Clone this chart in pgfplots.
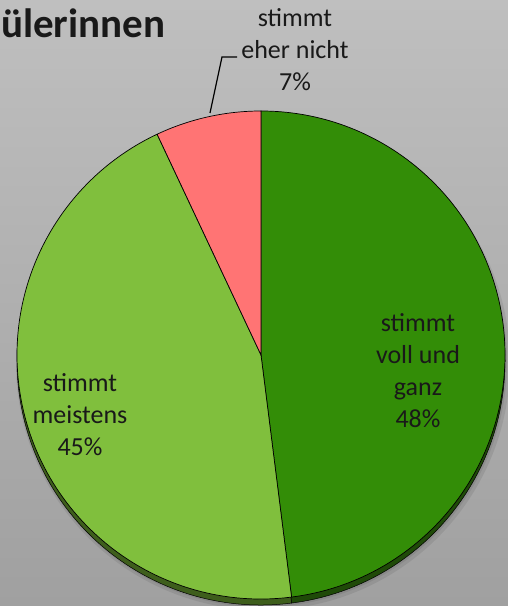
\documentclass[border=0pt]{standalone}
\usepackage{pgfplots}
\pgfplotsset{compat=1.18}
\usepackage{pgfplotstable}
\usepackage{fontspec}
\setmainfont{Carlito}
\definecolor{bgtop}{HTML}{BFBFBF}
\definecolor{bgbot}{HTML}{A0A0A0}
\definecolor{cdark}{HTML}{338D07}
\definecolor{clight}{HTML}{80BF3D}
\definecolor{cpink}{HTML}{FF7474}
\definecolor{edark}{HTML}{1F4A08}
\definecolor{elight}{HTML}{3E5E1C}
\definecolor{epink}{HTML}{8A3A3A}

\pgfplotstableread{
label value
voll 48
meistens 45
eher 7
}\piedata

\begin{document}
\begin{tikzpicture}
\pgfplotstablegetelem{0}{value}\of\piedata \let\va\pgfplotsretval
\pgfplotstablegetelem{1}{value}\of\piedata \let\vb\pgfplotsretval
\pgfplotstablegetelem{2}{value}\of\piedata \let\vc\pgfplotsretval
\pgfmathsetmacro\aA{90-3.6*\va}
\pgfmathsetmacro\aB{\aA-3.6*\vb}
\pgfmathsetmacro\aC{\aB-3.6*\vc}
\begin{axis}[scale only axis, width=508bp, height=606bp,
  xmin=0, xmax=508, ymin=0, ymax=606, hide axis, clip=true]
\fill[top color=bgtop, bottom color=bgbot] (axis cs:0,0) rectangle (axis cs:508,606);
% soft shadow
\fill[black, opacity=0.08] (axis cs:263,243) circle[radius=247bp];
\fill[black, opacity=0.08] (axis cs:262,244) circle[radius=245bp];
% 3D edge
\fill[edark, draw=black, line width=0.5bp] (axis cs:261,245) -- ++(90:244bp) arc[start angle=90, end angle=\aA, radius=244bp] -- cycle;
\fill[elight, draw=black, line width=0.5bp] (axis cs:261,245) -- ++(\aA:244bp) arc[start angle=\aA, end angle=\aB, radius=244bp] -- cycle;
\fill[epink, draw=black, line width=0.5bp] (axis cs:261,245) -- ++(\aB:244bp) arc[start angle=\aB, end angle=\aC, radius=244bp] -- cycle;
% top faces
\filldraw[fill=cdark, draw=black, line width=0.7bp] (axis cs:261,251) -- ++(90:244bp) arc[start angle=90, end angle=\aA, radius=244bp] -- cycle;
\filldraw[fill=clight, draw=black, line width=0.7bp] (axis cs:261,251) -- ++(\aA:244bp) arc[start angle=\aA, end angle=\aB, radius=244bp] -- cycle;
\filldraw[fill=cpink, draw=black, line width=0.7bp] (axis cs:261,251) -- ++(\aB:244bp) arc[start angle=\aB, end angle=\aC, radius=244bp] -- cycle;
% leader line
\draw[black, line width=1.2bp] (axis cs:210,493) -- (axis cs:222,549) -- (axis cs:237,549);
% labels
\node[align=center, text=black!90, font=\fontsize{26bp}{32bp}\selectfont, inner sep=0] at (axis cs:295,556) {stimmt\\eher nicht\\7\%};
\node[align=center, text=black!90, font=\fontsize{26bp}{32bp}\selectfont, inner sep=0] at (axis cs:418,235) {stimmt\\voll und\\ganz\\48\%};
\node[align=center, text=black!90, font=\fontsize{26bp}{32bp}\selectfont, inner sep=0] at (axis cs:80,191) {stimmt\\meistens\\45\%};
\node[anchor=base west, inner sep=0, font=\fontsize{41bp}{46bp}\selectfont\bfseries, text=black!90] at (axis cs:1,568) {ülerinnen};
\end{axis}
\end{tikzpicture}
\end{document}
